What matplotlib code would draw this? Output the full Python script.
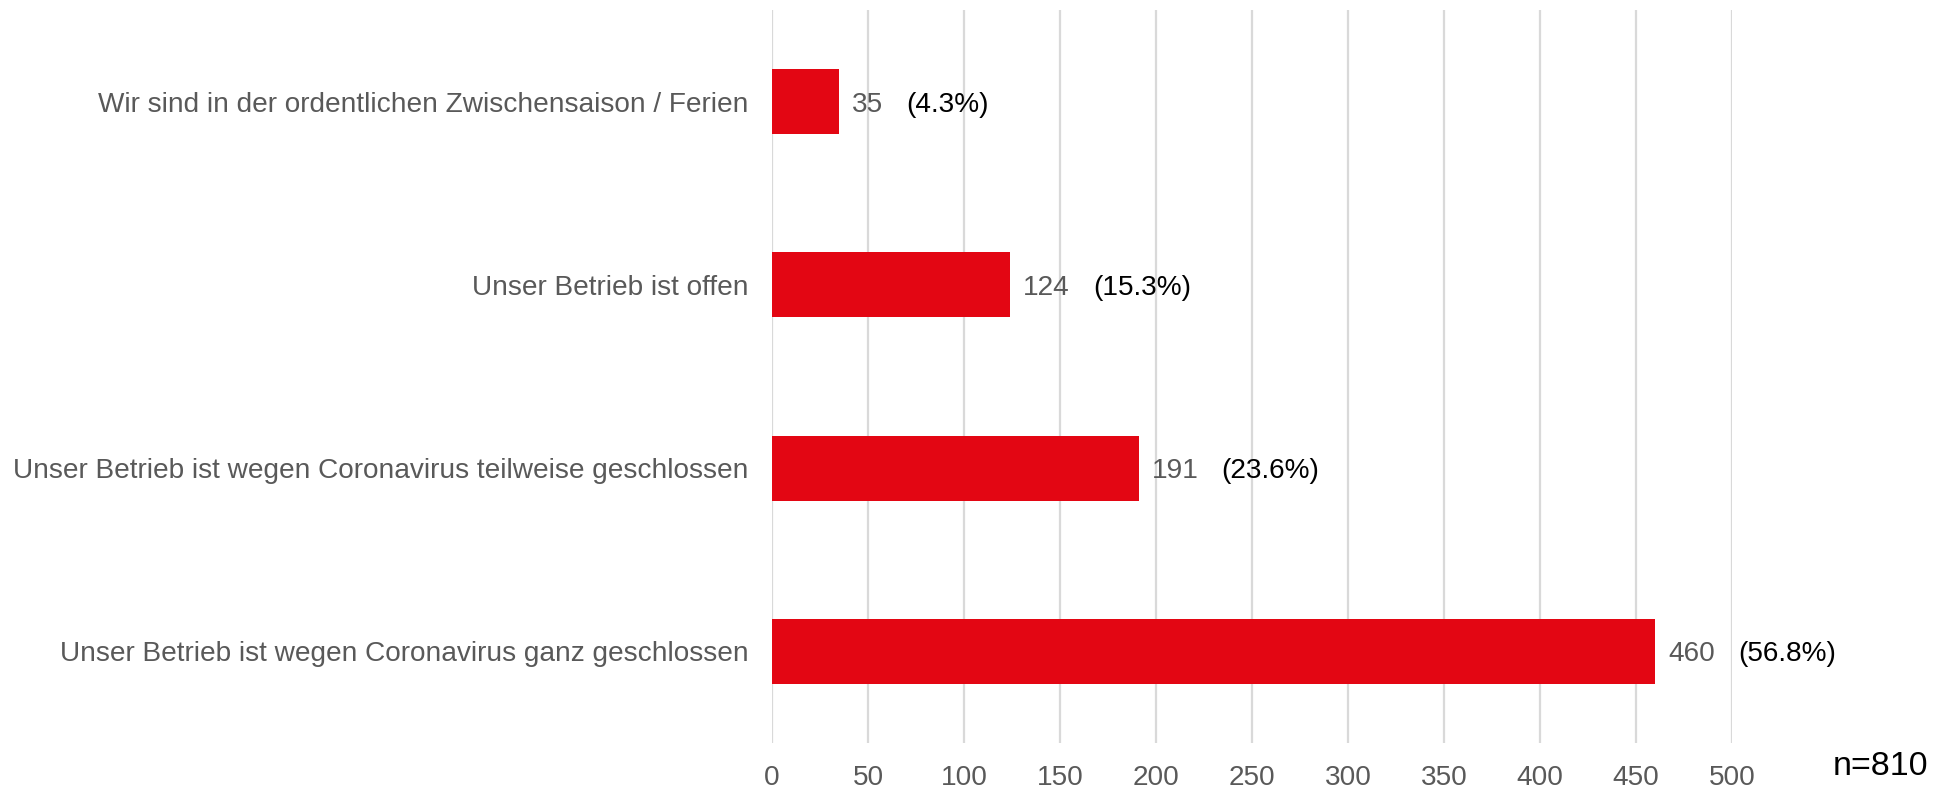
import matplotlib.pyplot as plt

plt.rcParams['font.family'] = ['Liberation Sans', 'DejaVu Sans']

categories = [
    'Wir sind in der ordentlichen Zwischensaison / Ferien',
    'Unser Betrieb ist offen',
    'Unser Betrieb ist wegen Coronavirus teilweise geschlossen',
    'Unser Betrieb ist wegen Coronavirus ganz geschlossen',
]
counts = [35, 124, 191, 460]
percents = ['(4.3%)', '(15.3%)', '(23.6%)', '(56.8%)']
n_total = 810

gray = '#595959'
red = '#E30613'
fs = 20.2

fig = plt.figure(figsize=(19.41, 7.89), dpi=100)
ax = fig.add_axes([772 / 1941, 1 - 743 / 789, 960 / 1941, 733 / 789])

y = list(range(len(categories)))
bars = ax.barh(y, counts, height=0.355, color=red, zorder=3)

ax.set_xlim(0, 500)
ax.set_ylim(len(categories) - 0.5, -0.5)
ax.set_xticks(range(0, 501, 50))
ax.set_yticks(y)
ax.set_yticklabels(categories)
ax.tick_params(axis='both', length=0, labelsize=fs, labelcolor=gray)
ax.tick_params(axis='x', pad=16)
ax.tick_params(axis='y', pad=17)
for s in ax.spines.values():
    s.set_visible(False)
ax.grid(axis='x', color='#D9D9D9', linewidth=1.6, zorder=0)

for yi, c, p in zip(y, counts, percents):
    t = ax.annotate(str(c), xy=(c, yi), xytext=(13, -3), textcoords='offset pixels',
                    va='center', ha='left', fontsize=fs, color=gray)
    ax.annotate(p, xy=(1, 0.5), xycoords=t, xytext=(23, 0), textcoords='offset pixels',
                va='center', ha='left', fontsize=fs, color='black')

fig.text(1833 / 1941, 1 - 775 / 789, 'n=%d' % n_total, fontsize=24.5, color='black',
         ha='left', va='baseline')

fig.savefig('out.png', dpi=100)
